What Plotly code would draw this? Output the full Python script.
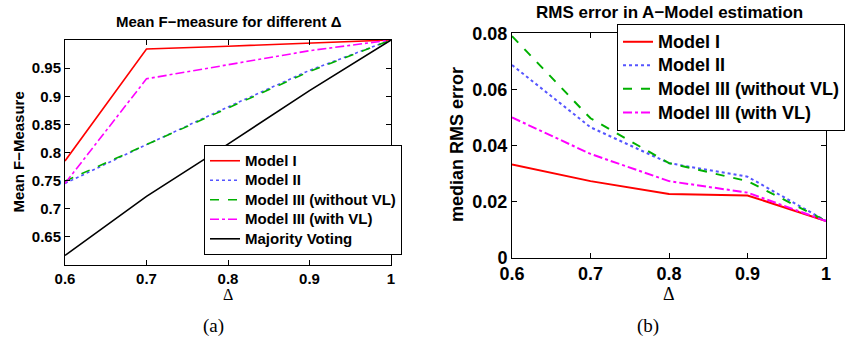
import plotly.graph_objects as go

delta = [0.6, 0.7, 0.8, 0.9, 1.0]
series_names = ["Model I", "Model II", "Model III (without VL)", "Model III (with VL)", "Majority Voting"]

# Left panel: mean F-measure
f_model1 = [0.785, 0.984, 0.989, 0.995, 1.0]
f_model2 = [0.745, 0.814, 0.881, 0.946, 1.0]
f_model3_novl = [0.749, 0.814, 0.879, 0.944, 1.0]
f_model3_vl = [0.745, 0.931, 0.956, 0.981, 1.0]
f_majority = [0.617, 0.722, 0.815, 0.910, 1.0]

# Right panel: median RMS error
r_model1 = [0.0332, 0.0273, 0.0227, 0.0222, 0.0131]
r_model2 = [0.0687, 0.0465, 0.0337, 0.0289, 0.0131]
r_model3_novl = [0.0790, 0.0497, 0.0337, 0.0273, 0.0131]
r_model3_vl = [0.0500, 0.0370, 0.0273, 0.0232, 0.0131]

x_ticks = [0.6, 0.7, 0.8, 0.9, 1.0]
x_ticktext = ["0.6", "0.7", "0.8", "0.9", "1"]
yl_ticks = [0.65, 0.7, 0.75, 0.8, 0.85, 0.9, 0.95]
yl_ticktext = ["0.65", "0.7", "0.75", "0.8", "0.85", "0.9", "0.95"]
yr_ticks = [0, 0.02, 0.04, 0.06, 0.08]
yr_ticktext = ["0", "0.02", "0.04", "0.06", "0.08"]

styles = [
    dict(color="#ff0000", dash="solid"),
    dict(color="#5555ff", dash="dot"),
    dict(color="#00b000", dash="dash"),
    dict(color="#ff00ff", dash="dashdot"),
    dict(color="#000000", dash="solid"),
]

W, H = 854, 339
fig = go.Figure()

def sized(name, size):
    return f'<span style="font-size:{size}px">{name}</span>'

left_data = [f_model1, f_model2, f_model3_novl, f_model3_vl, f_majority]
for name, ys, st in zip(series_names, left_data, styles):
    fig.add_trace(go.Scatter(x=delta, y=ys, mode="lines", name=sized(name, 15),
                             line=dict(color=st["color"], dash=st["dash"], width=1.6),
                             xaxis="x", yaxis="y", legend="legend"))

right_data = [r_model1, r_model2, r_model3_novl, r_model3_vl]
for name, ys, st in zip(series_names[:4], right_data, styles[:4]):
    fig.add_trace(go.Scatter(x=delta, y=ys, mode="lines", name=sized(name, 18),
                             line=dict(color=st["color"], dash=st["dash"], width=2),
                             xaxis="x2", yaxis="y2", legend="legend2"))

def px(x):
    return x / W

def py(y):
    return 1 - y / H

axis_common = dict(showline=True, linecolor="black", linewidth=1, mirror="allticks",
                   ticks="inside", ticklen=5, tickcolor="black", showgrid=False,
                   zeroline=False)

font_bold = "Liberation Sans"

fig.update_layout(
    width=W, height=H,
    margin=dict(l=0, r=0, t=0, b=0, pad=0, autoexpand=False),
    paper_bgcolor="white", plot_bgcolor="white",
    xaxis=dict(domain=[px(65), px(391)], range=[0.6, 1.0], anchor="y",
               tickvals=x_ticks, ticktext=x_ticktext,
               tickfont=dict(family=font_bold, size=15, color="black", weight="bold"),
               **axis_common),
    yaxis=dict(domain=[py(265), py(40)], range=[0.6, 1.0], anchor="x",
               tickvals=yl_ticks, ticktext=yl_ticktext,
               tickfont=dict(family=font_bold, size=15, color="black", weight="bold"),
               **axis_common),
    xaxis2=dict(domain=[px(512), px(826)], range=[0.6, 1.0], anchor="y2",
                tickvals=x_ticks, ticktext=x_ticktext,
                tickfont=dict(family=font_bold, size=18, color="black", weight="bold"),
                **axis_common),
    yaxis2=dict(domain=[py(257.7), py(33.3)], range=[0, 0.08], anchor="x2",
                tickvals=yr_ticks, ticktext=yr_ticktext,
                tickfont=dict(family=font_bold, size=18, color="black", weight="bold"),
                **axis_common),
    legend=dict(x=px(204), y=py(145), xanchor="left", yanchor="top",
                bgcolor="white", bordercolor="black", borderwidth=1,
                font=dict(family=font_bold, size=12.7, color="black", weight="bold"),
                tracegroupgap=0, itemwidth=30),
    legend2=dict(x=px(617), y=py(24), xanchor="left", yanchor="top",
                 bgcolor="white", bordercolor="black", borderwidth=1,
                 font=dict(family=font_bold, size=15.8, color="black", weight="bold"),
                 tracegroupgap=0, itemwidth=30),
    showlegend=True,
)

annotations = [
    dict(text="Mean F−measure for different Δ", x=px(228.5), y=py(21.5),
         font=dict(family=font_bold, size=15, color="black", weight="bold")),
    dict(text="RMS error in A−Model estimation", x=px(669), y=py(12),
         font=dict(family=font_bold, size=17, color="black", weight="bold")),
    dict(text="Mean F−Measure", x=px(18), y=py(152.5), textangle=-90,
         font=dict(family=font_bold, size=15, color="black", weight="bold")),
    dict(text="median RMS error", x=px(457), y=py(145), textangle=-90,
         font=dict(family=font_bold, size=18, color="black", weight="bold")),
    dict(text="Δ", x=px(228), y=py(294),
         font=dict(family="Liberation Serif", size=16, color="black")),
    dict(text="Δ", x=px(669), y=py(294),
         font=dict(family="Liberation Serif", size=18, color="black")),
    dict(text="(a)", x=px(213), y=py(326),
         font=dict(family="Liberation Serif", size=19, color="black")),
    dict(text="(b)", x=px(648), y=py(326),
         font=dict(family="Liberation Serif", size=19, color="black")),
]
for a in annotations:
    a.update(xref="paper", yref="paper", showarrow=False, xanchor="center", yanchor="middle")
fig.update_layout(annotations=annotations)

fig.write_html("out.html", config={"displayModeBar": False},
               post_script="document.body.style.margin='0';document.body.style.overflow='hidden';")
